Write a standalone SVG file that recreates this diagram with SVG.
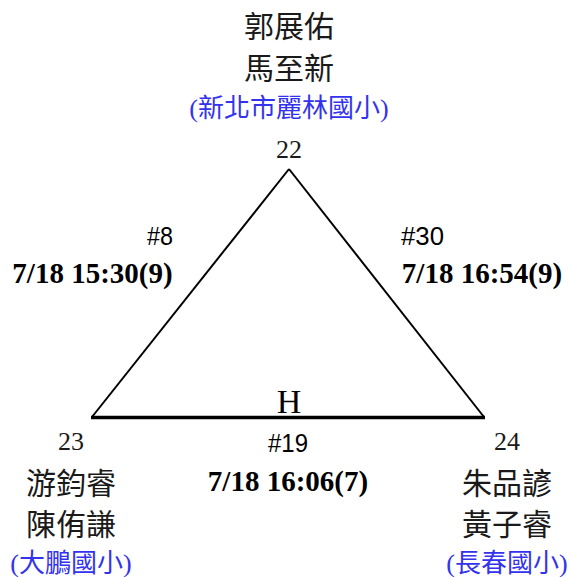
<svg xmlns="http://www.w3.org/2000/svg" width="569" height="577" viewBox="0 0 569 577">
<style>
.cjk{font-family:"Noto Sans CJK TC","Noto Sans CJK SC",sans-serif;font-size:30px;fill:#1a1a1a;text-anchor:middle}
.school{font-family:'Liberation Serif','Noto Sans CJK TC',serif;font-size:26px;fill:#3333ee;text-anchor:middle}
.num{font-family:'Liberation Serif',serif;font-size:26px;fill:#1a1a1a;text-anchor:middle}
.game{font-family:'Liberation Sans',sans-serif;font-size:25px;fill:#000;text-anchor:middle}
.time{font-family:'Liberation Serif',serif;font-size:29px;font-weight:bold;fill:#000;text-anchor:middle}
.court{font-family:'Liberation Serif',serif;font-size:34px;fill:#000;text-anchor:middle}
.edge{stroke:#000;fill:none}
</style>
<rect width="569" height="577" fill="#fff"/>
<g id="connectors">
<line class="edge" x1="289" y1="169" x2="92" y2="417" stroke-width="2"/>
<line class="edge" x1="289" y1="169" x2="484" y2="417" stroke-width="2"/>
<line class="edge" x1="91" y1="417.5" x2="485" y2="417.5" stroke-width="3.5"/>
<g id="edge-left">
<text class="game" x="160" y="245" textLength="26" lengthAdjust="spacingAndGlyphs">#8</text>
<text class="time" x="92.5" y="283">7/18 15:30(9)</text>
</g>
<g id="edge-right">
<text class="game" x="422.5" y="245" textLength="43" lengthAdjust="spacingAndGlyphs">#30</text>
<text class="time" x="482" y="283">7/18 16:54(9)</text>
</g>
<g id="edge-bottom">
<text class="court" x="289" y="413">H</text>
<text class="game" x="288" y="452" textLength="40" lengthAdjust="spacingAndGlyphs">#19</text>
<text class="time" x="288" y="491">7/18 16:06(7)</text>
</g>
</g>
<g id="node-22">
<text class="cjk" x="289" y="37">郭展佑</text>
<text class="cjk" x="289" y="79">馬至新</text>
<text class="school" x="289" y="117">(新北市麗林國小)</text>
<text class="num" x="289" y="158">22</text>
</g>
<g id="node-23">
<text class="num" x="71" y="450">23</text>
<text class="cjk" x="71" y="494">游鈞睿</text>
<text class="cjk" x="71" y="535">陳侑謙</text>
<text class="school" x="71" y="572">(大鵬國小)</text>
</g>
<g id="node-24">
<text class="num" x="507" y="450">24</text>
<text class="cjk" x="507" y="494">朱品諺</text>
<text class="cjk" x="507" y="535">黃子睿</text>
<text class="school" x="507" y="572">(長春國小)</text>
</g>
</svg>
